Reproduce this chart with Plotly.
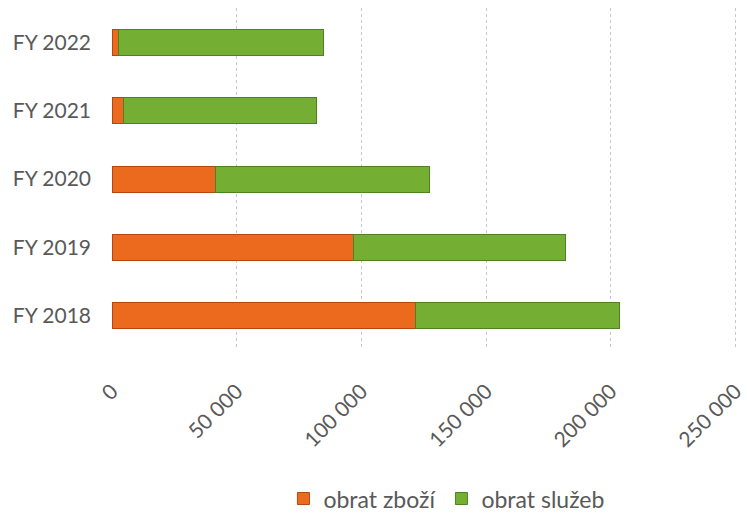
import plotly.graph_objects as go

years = ["FY 2018", "FY 2019", "FY 2020", "FY 2021", "FY 2022"]
obrat_zbozi = [121500, 97000, 41500, 4500, 2500]
obrat_sluzeb = [82000, 85000, 86000, 77500, 82300]
x_ticks = [0, 50000, 100000, 150000, 200000, 250000]

FONT = "Lato"
GRAY = "#595959"

fig = go.Figure()
fig.add_trace(go.Bar(
    y=years, x=obrat_zbozi, orientation="h", name="obrat zboží",
    marker=dict(color="#EC6A1E", line=dict(color="#B4470F", width=1)),
))
fig.add_trace(go.Bar(
    y=years, x=obrat_sluzeb, orientation="h", name="obrat služeb",
    marker=dict(color="#74AE32", line=dict(color="#4C8222", width=1)),
))

fig.update_layout(
    barmode="stack",
    bargap=0.62,
    width=747, height=514,
    margin=dict(l=112, r=4, t=8, b=164, autoexpand=False),
    paper_bgcolor="white", plot_bgcolor="white",
    separators=", ",
    font=dict(family=FONT, color=GRAY, size=21),
    showlegend=True,
    legend=dict(orientation="h", x=0.53, xanchor="center",
                yref="container", y=0.03, yanchor="middle",
                font=dict(size=23, color=GRAY), itemwidth=30, traceorder="normal"),
    xaxis=dict(range=[0, 253000], tickvals=x_ticks, tickformat=",d",
               tickangle=-45, showgrid=True, gridcolor="#C8C8C8", griddash="dot",
               gridwidth=1, zeroline=False, showline=False, ticks="",
               ticklabeloverflow="allow", automargin=False,
               ticklabelstandoff=24, tickfont=dict(size=21, color=GRAY)),
    yaxis=dict(showgrid=False, showline=False, ticks="", ticklabelstandoff=20,
               automargin=False, tickfont=dict(size=21, color=GRAY)),
)

fig.write_html("out.html")
